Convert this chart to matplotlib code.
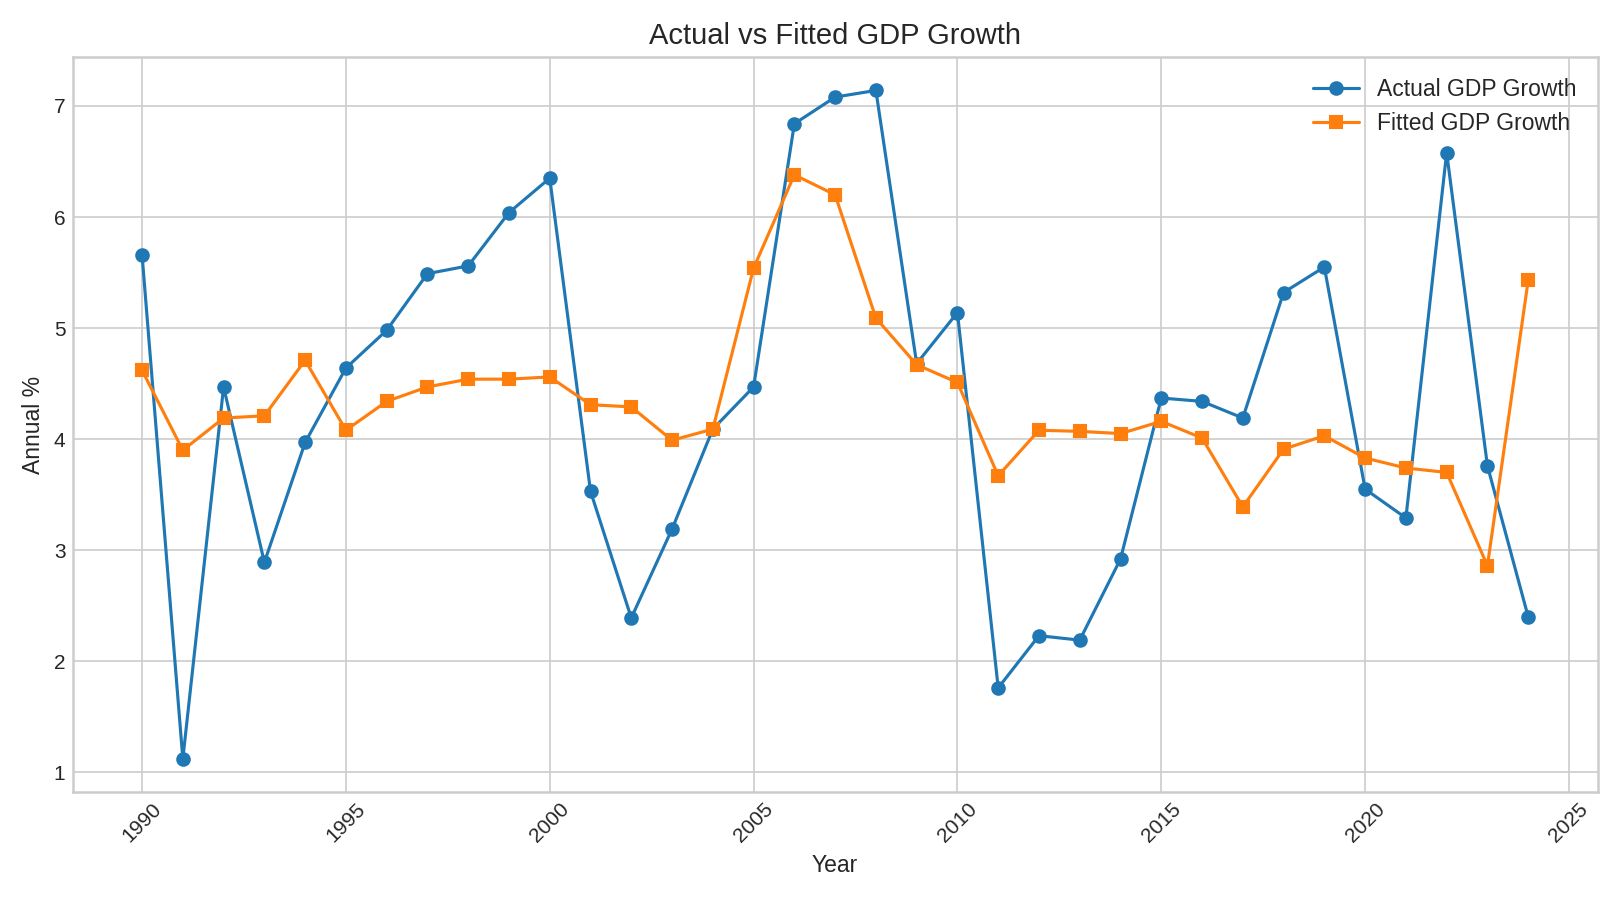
import matplotlib
matplotlib.use("Agg")
import matplotlib.pyplot as plt

years = list(range(1990, 2025))
actual = [5.66, 1.12, 4.47, 2.89, 3.97, 4.64, 4.98, 5.49, 5.56, 6.04, 6.35,
          3.53, 2.39, 3.19, 4.09, 4.47, 6.84, 7.08, 7.14, 4.68, 5.14,
          1.76, 2.23, 2.19, 2.92, 4.37, 4.34, 4.19, 5.32, 5.55, 3.55,
          3.29, 6.58, 3.76, 2.40]
fitted = [4.62, 3.90, 4.19, 4.21, 4.71, 4.08, 4.34, 4.47, 4.54, 4.54, 4.56,
          4.31, 4.29, 3.99, 4.09, 5.54, 6.38, 6.20, 5.09, 4.67, 4.51,
          3.67, 4.08, 4.07, 4.05, 4.16, 4.01, 3.39, 3.91, 4.03, 3.83,
          3.74, 3.70, 2.86, 5.43]

plt.style.use("seaborn-v0_8-whitegrid")
plt.rcParams['font.family'] = ['Arial', 'Liberation Sans', 'DejaVu Sans']
plt.rcParams['axes.edgecolor'] = '#cccccc'
plt.rcParams['axes.linewidth'] = 1.2

fig, ax = plt.subplots(figsize=(10.8, 6), dpi=150)
ax.plot(years, actual, marker='o', label='Actual GDP Growth', color='#1f77b4')
ax.plot(years, fitted, marker='s', label='Fitted GDP Growth', color='#ff7f0e')
ax.set_title('Actual vs Fitted GDP Growth', fontsize=14)
ax.set_xlabel('Year', fontsize=11)
ax.set_ylabel('Annual %', fontsize=11)
ax.tick_params(labelsize=10)
ax.legend(fontsize=11)
for s in ax.spines.values():
    s.set_visible(True)
plt.setp(ax.get_xticklabels(), rotation=45)
fig.tight_layout()
fig.savefig('out.png', dpi=150)
